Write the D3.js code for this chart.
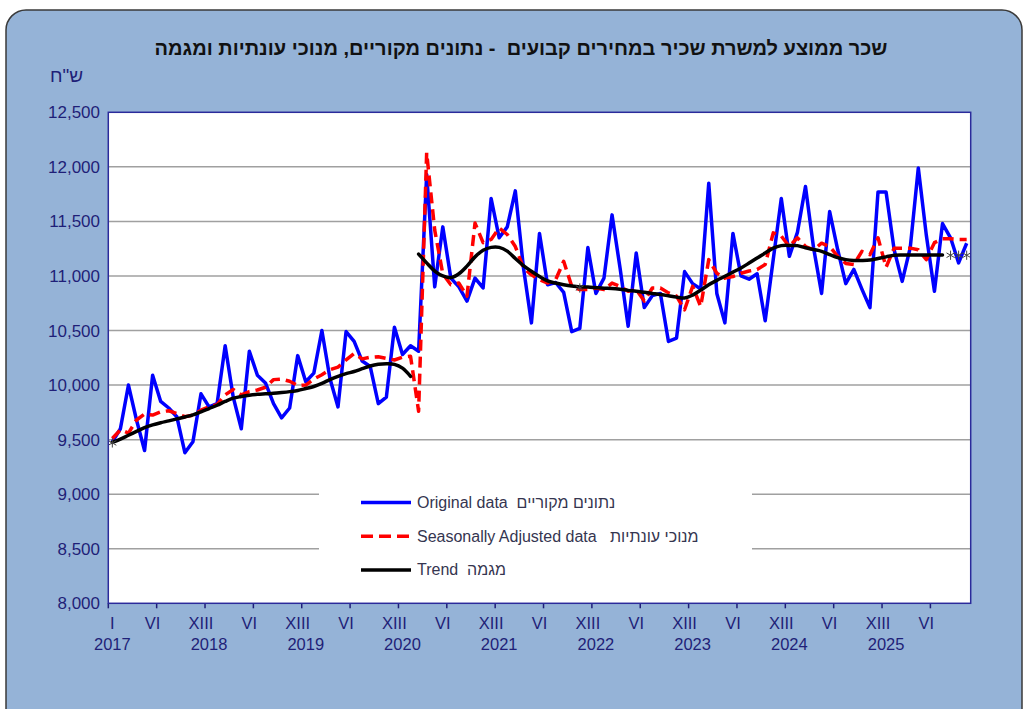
<!DOCTYPE html>
<html>
<head>
<meta charset="utf-8">
<script src="https://cdn.jsdelivr.net/npm/d3@7"></script>
<style>
  html, body { margin: 0; padding: 0; background: #fff; }
  svg { display: block; font-family: "Liberation Sans", Arial, sans-serif; }
  text { white-space: pre; }
</style>
</head>
<body>
<div id="chart"></div>
<script>
// monthly categories Jan 2017 .. Nov 2025
const years = [2017, 2018, 2019, 2020, 2021, 2022, 2023, 2024, 2025];
const months = [];
years.forEach(yr => d3.range(1, 13).forEach(m => { if (yr < 2025 || m <= 11) months.push(`${yr}-${m}`); }));

const original = [
  9480, 9600, 10000, 9680, 9400, 10090, 9850, 9790, 9710, 9380, 9480, 9920,
  9800, 9830, 10360, 9890, 9600, 10310, 10090, 10020, 9830, 9700, 9790, 10270,
  10030, 10110, 10500, 10060, 9800, 10490, 10400, 10220, 10170, 9830, 9890, 10530,
  10280, 10360, 10310, 11930, 10900, 11450, 10980, 10900, 10770, 10980, 10890, 11710,
  11350, 11450, 11780, 11080, 10570, 11390, 10920, 10940, 10850, 10490, 10520, 11260,
  10840, 10980, 11560, 11070, 10540, 11210, 10710, 10820, 10840, 10400, 10430, 11040,
  10930, 10880, 11850, 10840, 10570, 11390, 11000, 10970, 11020, 10590, 11150, 11710,
  11180, 11400, 11820, 11260, 10840, 11590, 11240, 10930, 11060, 10880, 10710, 11770,
  11770, 11240, 10950, 11260, 11990, 11370, 10860, 11480, 11350, 11120, 11300
];

const seasonal = [
  9510, 9590, 9560, 9680, 9735, 9725, 9755, 9765, 9740, 9710, 9725, 9770,
  9800, 9820, 9910, 9960, 9910, 9940, 9955, 9980, 10050, 10055, 10035, 9995,
  10000, 10055, 10095, 10140, 10165, 10230, 10290, 10240, 10255, 10260, 10245, 10230,
  10255, 10265, 9760, 12130, 11420, 11020, 10920, 10935, 10815, 11485, 11305, 11335,
  11440, 11380, 11270, 11075, 11010, 10965, 10935, 10965, 11135, 10905, 10875, 10875,
  10890, 10875, 10935, 10905, 10860, 10875, 10770, 10890, 10890, 10845, 10815, 10690,
  10905, 10720, 11150, 11025, 10980, 10995, 11025, 11045, 11060, 11105, 11395, 11365,
  11270, 11350, 11270, 11240, 11300, 11270, 11180, 11115, 11105, 11225, 11195, 11350,
  11080, 11255, 11255, 11255, 11240, 11150, 11305, 11340, 11340, 11335, 11335
];

// trend, old series Jan 2017 .. Feb 2020
const trendOld = [
  9475, 9505, 9540, 9575, 9610, 9635, 9655, 9672, 9690, 9708, 9727, 9755,
  9785, 9815, 9850, 9880, 9895, 9907, 9915, 9920, 9925, 9932, 9940, 9950,
  9968, 9987, 10015, 10050, 10080, 10105, 10124, 10150, 10175, 10190, 10195, 10190,
  10155, 10080
];
// trend, new series from Mar 2020
const trendNewStart = 38;
const trendNew = [
  11200, 11120, 11045, 11000, 10985, 11020, 11090, 11175, 11235, 11262,
  11262, 11228, 11160, 11095, 11043, 10995, 10955, 10935, 10920, 10908, 10900, 10898,
  10893, 10888, 10885, 10878, 10868, 10860, 10850, 10840, 10830, 10818, 10806, 10798,
  10825, 10870, 10920, 10960, 10997, 11035, 11073, 11118, 11165, 11210, 11255, 11278,
  11280, 11278, 11258, 11242, 11226, 11196, 11168, 11150, 11142, 11142, 11146, 11160,
  11175, 11190, 11193, 11193, 11193, 11193, 11193, 11193
];

// stray markers: [category index, value]
const markers = [[0, 9470], [58, 10890], [104, 11190], [105, 11190], [106, 11190]];

const yTicks = [8000, 8500, 9000, 9500, 10000, 10500, 11000, 11500, 12000, 12500];
const xLabels = [[0, 'I'], [5, 'VI'], [11, 'XIII'], [17, 'VI'], [23, 'XIII'], [29, 'VI'], [35, 'XIII'],
  [41, 'VI'], [47, 'XIII'], [53, 'VI'], [59, 'XIII'], [65, 'VI'], [71, 'XIII'], [77, 'VI'],
  [83, 'XIII'], [89, 'VI'], [95, 'XIII'], [101, 'VI']];
const yearLabels = [[0, '2017'], [12, '2018'], [24, '2019'], [36, '2020'], [48, '2021'],
  [60, '2022'], [72, '2023'], [84, '2024'], [96, '2025']];

const title = 'שכר ממוצע למשרת שכיר במחירים קבועים  - נתונים מקוריים, מנוכי עונתיות ומגמה';
const unit = 'ש"ח';
const legendItems = [
  { text: 'Original data  נתונים מקוריים', color: '#0000ff', dash: null },
  { text: 'Seasonally Adjusted data   מנוכי עונתיות', color: '#ff0000', dash: '12,6' },
  { text: 'Trend  מגמה', color: '#000000', dash: null }
];

const W = 1026, H = 709;
const pL = 108.3, pR = 970.7, pT = 112.3, pB = 603.3;
const navy = '#1f1f78';

const svg = d3.select('#chart').append('svg').attr('width', W).attr('height', H);

svg.append('rect').attr('x', 6).attr('y', 10).attr('width', 1016).attr('height', 740)
  .attr('rx', 20).attr('fill', '#95b3d7').attr('stroke', '#3a3a3a').attr('stroke-width', 1.5);

svg.append('text').attr('x', 521).attr('y', 55).attr('text-anchor', 'middle')
  .attr('direction', 'rtl').attr('font-size', 20).attr('font-weight', 'bold').attr('fill', '#111')
  .text(title);

svg.append('text').attr('x', 83).attr('y', 82).attr('text-anchor', 'end')
  .attr('font-size', 19).attr('fill', navy).text(unit);

const x = d3.scaleBand().domain(d3.range(months.length)).range([pL, pR]).padding(0);
const cx = i => x(i) + x.bandwidth() / 2;
const y = d3.scaleLinear().domain([8000, 12500]).range([pB, pT]);

svg.append('rect').attr('x', pL).attr('y', pT).attr('width', pR - pL).attr('height', pB - pT)
  .attr('fill', '#fff');

// gridlines
svg.append('g').selectAll('line').data(yTicks.slice(1, -1)).enter().append('line')
  .attr('x1', pL).attr('x2', pR).attr('y1', d => y(d)).attr('y2', d => y(d))
  .attr('stroke', '#a0a0a0').attr('stroke-width', 1.5);

// y axis labels
svg.append('g').selectAll('text').data(yTicks).enter().append('text')
  .attr('x', 100).attr('y', d => y(d) + 6).attr('text-anchor', 'end')
  .attr('font-size', 17).attr('fill', navy).text(d => d3.format(',')(d));

// x ticks every 6 months at category boundaries
const tickIdx = d3.range(0, months.length, 6);
svg.append('g').selectAll('line').data(tickIdx).enter().append('line')
  .attr('x1', d => x(d)).attr('x2', d => x(d)).attr('y1', pB).attr('y2', pB + 5)
  .attr('stroke', navy).attr('stroke-width', 1.5);

svg.append('g').selectAll('text').data(xLabels).enter().append('text')
  .attr('x', d => cx(d[0])).attr('y', 629).attr('text-anchor', 'middle')
  .attr('font-size', 16.5).attr('fill', navy).text(d => d[1]);

svg.append('g').selectAll('text').data(yearLabels).enter().append('text')
  .attr('x', d => cx(d[0])).attr('y', 650).attr('text-anchor', 'middle')
  .attr('font-size', 16.5).attr('fill', navy).text(d => d[1]);

// legend box
const lg = svg.append('g');
lg.append('rect').attr('x', 319).attr('y', 478).attr('width', 433).attr('height', 112).attr('fill', '#fff');
legendItems.forEach((d, k) => {
  const ly = 502.5 + k * 33.7;
  lg.append('line').attr('x1', 361).attr('x2', 411).attr('y1', ly).attr('y2', ly)
    .attr('stroke', d.color).attr('stroke-width', 3.5).attr('stroke-dasharray', d.dash);
  lg.append('text').attr('x', 417).attr('y', ly + 5.5).attr('font-size', 16)
    .attr('fill', '#353550').text(d.text);
});

// series
const line = d3.line().x(d => cx(d[0])).y(d => y(d[1]));
const smooth = d3.line().x(d => cx(d[0])).y(d => y(d[1])).curve(d3.curveCatmullRom);

svg.append('path').datum(original.map((v, i) => [i, v])).attr('d', line)
  .attr('fill', 'none').attr('stroke', '#0000ff').attr('stroke-width', 3.5).attr('stroke-linejoin', 'round');

svg.append('path').datum(seasonal.map((v, i) => [i, v])).attr('d', line)
  .attr('fill', 'none').attr('stroke', '#ff0000').attr('stroke-width', 3.5)
  .attr('stroke-dasharray', '11,6').attr('stroke-linejoin', 'round');

[trendOld.map((v, i) => [i, v]), trendNew.map((v, i) => [i + trendNewStart, v])].forEach(seg => {
  svg.append('path').datum(seg).attr('d', smooth)
    .attr('fill', 'none').attr('stroke', '#000').attr('stroke-width', 3.5).attr('stroke-linecap', 'round');
});

const sym = d3.symbol().type(d3.symbolAsterisk || d3.symbolCross).size(60);
svg.append('g').selectAll('path').data(markers).enter().append('path')
  .attr('d', sym).attr('transform', d => `translate(${cx(d[0])},${y(d[1])})`)
  .attr('fill', 'none').attr('stroke', '#444').attr('stroke-width', 1);

// plot border
svg.append('rect').attr('x', pL).attr('y', pT).attr('width', pR - pL).attr('height', pB - pT)
  .attr('fill', 'none').attr('stroke', '#2b2b9b').attr('stroke-width', 1.5);
</script>
</body>
</html>
